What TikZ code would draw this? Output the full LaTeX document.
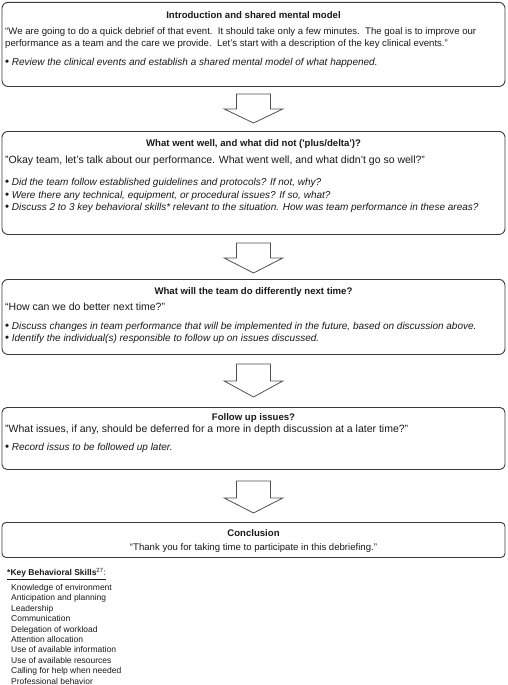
\documentclass[tikz,border=0pt]{standalone}
\usepackage{fontspec}
\setmainfont{Liberation Sans}
\usetikzlibrary{calc}
\definecolor{boxline}{HTML}{3A3A3A}
\definecolor{arrline}{HTML}{505050}
\definecolor{txt}{HTML}{1A1A1A}
\newcommand{\dbarrow}[5]{%
  \draw[barrow] ($(#1.south)+(-17,#3)$) -- ++(34,0) -- ++(0,#4) -- ++(12.5,0)
    -- ($(#2.north)+(0,-#5)$) -- ($(#1.south)+(-29.5,#3+#4)$) -- ++(12.5,0) -- cycle;}
\newcommand{\bul}{{\fontsize{11.5}{11}\selectfont\raisebox{-0.3pt}{•}}\hspace{2.6pt}}
\begin{document}
\begin{tikzpicture}[x=1pt,y=-1pt,
  box/.style={draw=boxline, line width=0.9pt, rounded corners=6pt, minimum width=503pt, inner sep=0pt, anchor=north},
  ttl/.style={anchor=base, inner sep=0pt, text=txt, font=\fontsize{9.6}{11}\selectfont\bfseries},
  ln/.style={anchor=base west, inner sep=0pt, text=txt, font=\fontsize{9.6}{11}\selectfont},
  lq/.style={anchor=base west, inner sep=0pt, text=txt, font=\fontsize{10.5}{12}\selectfont},
  li/.style={anchor=base west, inner sep=0pt, text=txt, font=\fontsize{10}{12}\selectfont},
  lc/.style={anchor=base, inner sep=0pt, text=txt, font=\fontsize{9.6}{11}\selectfont},
  fn/.style={anchor=base west, inner sep=0pt, text=txt, font=\fontsize{8.5}{10}\selectfont},
  barrow/.style={draw=arrline, line width=0.8pt, fill=white, line join=miter}]
\useasboundingbox[fill=white] (0,0) rectangle (507,685);

% Box 1
\node[box, minimum height=84pt] (b1) at (253.5,2) {};
\node[ttl] (t1) at (253.5,18.5) {Introduction and shared mental model};
\node[ln] (q1a) at (5,34.5) {“We are going to do a quick debrief of that event.\ \ It should take only a few minutes.\ \ The goal is to improve our};
\node[ln] (q1b) at (5,46.5) {performance as a team and the care we provide.\ \ Let’s start with a description of the key clinical events.”};
\node[li] (p1a) at (5,65.5) {\bul\textit{Review the clinical events and establish a shared mental model of what happened.}};

% Box 2
\node[box, minimum height=103pt] (b2) at (253.5,131) {};
\node[ttl] (t2) at (253.5,146.5) {What went well, and what did not (\textquotesingle plus/delta\textquotesingle)?};
\node[lq] (q2) at (5,163.5) {"Okay team, let’s talk about our performance. What went well, and what didn’t go so well?"};
\node[li] (p2a) at (5,185.5) {\bul\textit{Did the team follow established guidelines and protocols? If not, why?}};
\node[li] (p2b) at (5,198) {\bul\textit{Were there any technical, equipment, or procedural issues? If so, what?}};
\node[li] (p2c) at (5,210.5) {\bul\textit{Discuss 2 to 3 key behavioral skills* relevant to the situation. How was team performance in these areas?}};

% Box 3
\node[box, minimum height=75pt] (b3) at (253.5,279) {};
\node[ttl] (t3) at (253.5,294.5) {What will the team do differently next time?};
\node[lq] (q3) at (5,310.5) {“How can we do better next time?”};
\node[li] (p3a) at (5,329.5) {\bul\textit{Discuss changes in team performance that will be implemented in the future, based on discussion above.}};
\node[li] (p3b) at (5,341.5) {\bul\textit{Identify the individual(s) responsible to follow up on issues discussed.}};

% Box 4
\node[box, minimum height=62pt, rounded corners=5pt] (b4) at (253.5,407) {};
\node[ttl] (t4) at (253.5,420.5) {Follow up issues?};
\node[lq] (q4) at (5,432.5) {"What issues, if any, should be deferred for a more in depth discussion at a later time?"};
\node[li] (p4a) at (5,450.5) {\bul\textit{Record issus to be followed up later.}};

% Box 5
\node[box, minimum height=35pt, rounded corners=4pt] (b5) at (253.5,522) {};
\node[ttl] (t5) at (253.5,536.5) {Conclusion};
\node[lc] (q5) at (253.5,550.5) {“Thank you for taking time to participate in this debriefing.”};

% Arrows
\dbarrow{b1}{b2}{7}{15}{8}
\dbarrow{b2}{b3}{8}{15}{6}
\dbarrow{b3}{b4}{9}{17}{10}
\dbarrow{b4}{b5}{11}{17}{9}

% Footnote
\node[fn, font=\fontsize{8.5}{10}\selectfont\bfseries, inner ysep=2pt, inner xsep=0pt] (kh) at (7,575) {*Key Behavioral Skills\textsuperscript{\mdseries 27}\mdseries:};
\draw[line width=0.6pt, draw=txt] (kh.south west) -- (kh.south east);
\node[fn] (k1) at (11,590.5) {Knowledge of environment};
\node[fn] (k2) at (11,600.9) {Anticipation and planning};
\node[fn] (k3) at (11,611.3) {Leadership};
\node[fn] (k4) at (11,621.7) {Communication};
\node[fn] (k5) at (11,632.1) {Delegation of workload};
\node[fn] (k6) at (11,642.5) {Attention allocation};
\node[fn] (k7) at (11,652.9) {Use of available information};
\node[fn] (k8) at (11,663.3) {Use of available resources};
\node[fn] (k9) at (11,673.7) {Calling for help when needed};
\node[fn] (k10) at (11,684.1) {Professional behavior};
\end{tikzpicture}
\end{document}
